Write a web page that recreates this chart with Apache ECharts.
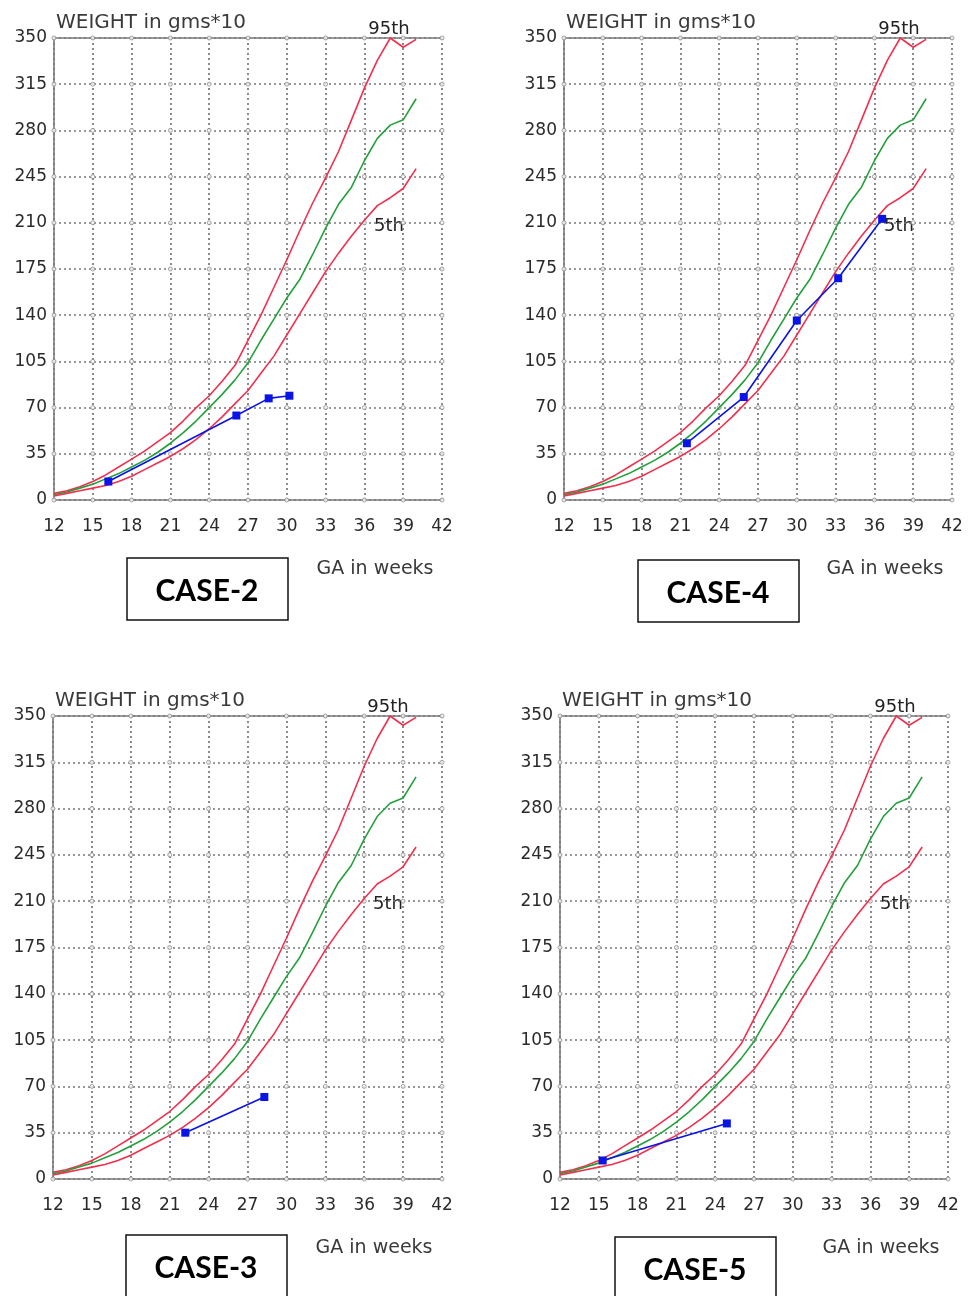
<!DOCTYPE html>
<html>
<head>
<meta charset="utf-8">
<title>Fetal growth charts</title>
<script src="https://cdn.jsdelivr.net/npm/echarts@6/dist/echarts.min.js"></script>
<style>
    html, body { margin: 0; padding: 0; background: #fff; }
    #growth { width: 974px; height: 1296px; }
</style>
</head>
<body>
<div id="growth"></div>
<script>
    // reference curves, weight in gms*10 per gestational week
    const weeks = [12, 13, 14, 15, 16, 17, 18, 19, 20, 21, 22, 23, 24, 25, 26, 27, 28, 29, 30, 31, 32, 33, 34, 35, 36, 37, 38, 39, 40]
    const p95 = [5, 7, 10, 14, 19, 25, 31, 37, 44, 51, 60, 70, 79, 90, 102, 121, 140, 161, 182, 204, 225, 244, 264, 288, 312, 333, 350, 343, 349]
    const p50 = [4, 6, 9, 12, 16, 20, 25, 30, 36, 43, 51, 60, 70, 80, 91, 104, 121, 137, 153, 167, 186, 206, 224, 237, 257, 274, 284, 288, 304]
    const p5 = [3, 5, 7, 9, 11, 14, 18, 23, 28, 33, 39, 46, 54, 63, 73, 83, 96, 109, 125, 141, 157, 173, 187, 200, 212, 223, 229, 236, 251]

    // tick labels
    const weekTicks = [12, 15, 18, 21, 24, 27, 30, 33, 36, 39, 42]
    const weightTicks = [0, 35, 70, 105, 140, 175, 210, 245, 280, 315, 350]

    // patient scans
    const case2Weeks = [16.2, 26.1, 28.6, 30.2]
    const case2Weight = [14, 64, 77, 79]
    const case4Weeks = [21.5, 25.9, 30.0, 33.2, 36.6]
    const case4Weight = [43, 78, 136, 168, 213]
    const case3Weeks = [22.2, 28.3]
    const case3Weight = [35, 62]
    const case5Weeks = [15.3, 24.9]
    const case5Weight = [14, 42]

    const FONT = 'DejaVu Sans'
    const RED = '#f2304e'
    const GREEN = '#23a03c'
    const BLUE = '#0a14e6'

    const panels = [
        {name: 'CASE-2', left: 54, top: 38, width: 388, height: 462, wk: case2Weeks, wt: case2Weight, boxX: 73, boxY: 58},
        {name: 'CASE-4', left: 564, top: 38, width: 388, height: 462, wk: case4Weeks, wt: case4Weight, boxX: 74, boxY: 60},
        {name: 'CASE-3', left: 53, top: 716, width: 389, height: 463, wk: case3Weeks, wt: case3Weight, boxX: 73, boxY: 56},
        {name: 'CASE-5', left: 560, top: 716, width: 388, height: 463, wk: case5Weeks, wt: case5Weight, boxX: 55, boxY: 58}
    ]

    const pairs = (xs, ys) => xs.map((x, i) => [x, ys[i]])
    const gridDots = []
    weekTicks.forEach(x => weightTicks.forEach(y => gridDots.push([x, y])))

    const dotted = {type: [2, 3], color: '#777', width: 1.7}

    const grid = [], xAxis = [], yAxis = [], series = [], graphic = []
    panels.forEach((p, i) => {
        grid.push({left: p.left, top: p.top, width: p.width, height: p.height})
        xAxis.push({
            type: 'value', gridIndex: i, min: 12, max: 42, interval: 3,
            axisLine: {lineStyle: {color: '#7a7a7a', width: 1.6}},
            axisTick: {show: false},
            splitLine: {lineStyle: dotted},
            axisLabel: {margin: 18, fontSize: 17, color: '#2a2a2a', fontFamily: FONT}
        })
        xAxis.push({
            type: 'value', gridIndex: i, position: 'top', min: 12, max: 42,
            axisLine: {show: true, lineStyle: {color: '#7a7a7a', width: 1.6}},
            axisTick: {show: false}, axisLabel: {show: false}, splitLine: {show: false}
        })
        yAxis.push({
            type: 'value', gridIndex: i, min: 0, max: 350, interval: 35,
            name: 'WEIGHT in gms*10', nameLocation: 'end', nameGap: 5,
            nameTextStyle: {align: 'left', fontSize: 20, color: '#3a3a3a', fontFamily: FONT, padding: [0, 0, 0, 2]},
            axisLine: {show: true, lineStyle: {color: '#7a7a7a', width: 1.6}},
            axisTick: {show: false},
            splitLine: {lineStyle: dotted},
            axisLabel: {margin: 7, fontSize: 17, color: '#2a2a2a', fontFamily: FONT}
        })

        const base = {xAxisIndex: 2 * i, yAxisIndex: i, silent: true}
        series.push(Object.assign({
            type: 'scatter', data: gridDots, symbol: 'circle', symbolSize: 4, z: 1,
            itemStyle: {color: '#fff', borderColor: '#8a8a8a', borderWidth: 1}
        }, base))
        series.push(Object.assign({
            type: 'line', data: pairs(weeks, p95), showSymbol: false, z: 3,
            lineStyle: {color: RED, width: 1.6}
        }, base))
        series.push(Object.assign({
            type: 'line', data: pairs(weeks, p50), showSymbol: false, z: 3,
            lineStyle: {color: GREEN, width: 1.6}
        }, base))
        series.push(Object.assign({
            type: 'line', data: pairs(weeks, p5), showSymbol: false, z: 3,
            lineStyle: {color: RED, width: 1.6}
        }, base))
        series.push(Object.assign({
            type: 'line', data: pairs(p.wk, p.wt), symbol: 'rect', symbolSize: 8, z: 5,
            lineStyle: {color: BLUE, width: 1.6}, itemStyle: {color: BLUE}
        }, base))

        const bottom = p.top + p.height
        graphic.push({
            type: 'text', x: p.left + 321, y: bottom + 69,
            style: {text: 'GA in weeks', font: '19px ' + FONT, fill: '#3a3a3a', align: 'center', verticalAlign: 'middle'}
        })
        graphic.push({
            type: 'text', x: p.left + 335, y: p.top - 9,
            style: {text: '95th', font: '18px ' + FONT, fill: '#222', align: 'center', verticalAlign: 'middle'}
        })
        graphic.push({
            type: 'text', x: p.left + 335, y: p.top + 188,
            style: {text: '5th', font: '18px ' + FONT, fill: '#222', align: 'center', verticalAlign: 'middle'}
        })
        graphic.push({
            type: 'rect', shape: {x: p.left + p.boxX, y: bottom + p.boxY, width: 161, height: 62},
            style: {fill: '#fff', stroke: '#111', lineWidth: 1.5}
        })
        graphic.push({
            type: 'text', x: p.left + p.boxX + 80, y: bottom + p.boxY + 33,
            style: {text: p.name, font: 'bold 30px Lato', fill: '#000', align: 'center', verticalAlign: 'middle'}
        })
    })

    const chart = echarts.init(document.getElementById('growth'))
    chart.setOption({animation: false, grid, xAxis, yAxis, series, graphic})
    window.addEventListener('resize', () => chart.resize())
</script>
</body>
</html>
